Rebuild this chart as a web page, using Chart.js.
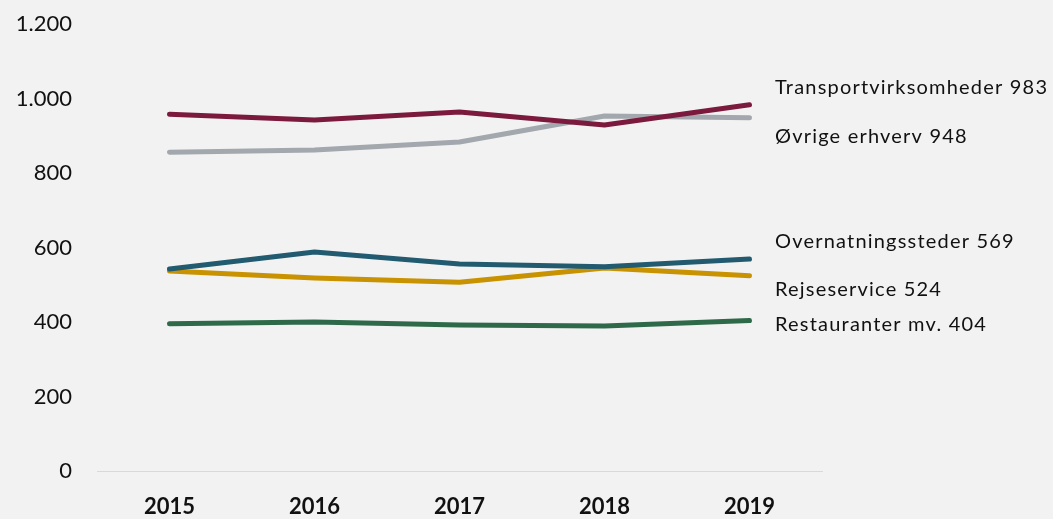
<!DOCTYPE html>
<html>
<head>
<meta charset="utf-8">
<script src="https://cdn.jsdelivr.net/npm/chart.js@4/dist/chart.umd.min.js"></script>
<style>
html,body{margin:0;padding:0;background:#f2f2f2;}
#wrap{width:1053px;height:519px;position:relative;}
</style>
</head>
<body>
<div id="wrap"><canvas id="c" width="1053" height="519"></canvas></div>
<script>
const years = ['2015','2016','2017','2018','2019'];
const transport = [958, 942, 964, 929, 983];
const ovrige = [856, 862, 883, 953, 948];
const overnatning = [542, 588, 556, 548, 569];
const rejseservice = [537, 518, 507, 545, 524];
const restauranter = [395, 400, 392, 389, 404];
const seriesNames = ['Transportvirksomheder', 'Øvrige erhverv', 'Overnatningssteder', 'Rejseservice', 'Restauranter mv.'];
const yTicks = [0, 200, 400, 600, 800, 1000, 1200];

const colors = ['#7b1a3c', '#a2a8ad', '#225a70', '#c89200', '#2e6a4a'];
const labelOffsets = [-17, 19, -18, 14, 4];
const fmt = v => v.toLocaleString('da-DK');

const endLabels = {
  id: 'endLabels',
  afterDatasetsDraw(chart) {
    const ctx = chart.ctx;
    const ys = chart.scales.y;
    ctx.save();
    ctx.font = '20px Lato';
    ctx.letterSpacing = '1.2px';
    ctx.fillStyle = '#111';
    ctx.textBaseline = 'middle';
    ctx.textAlign = 'left';
    chart.data.datasets.forEach((ds, i) => {
      const v = ds.data[ds.data.length - 1];
      const y = ys.getPixelForValue(v) + labelOffsets[i];
      ctx.fillText(ds.label + ' ' + fmt(v), 775, y);
    });
    ctx.restore();
  }
};

const dataSets = [transport, ovrige, overnatning, rejseservice, restauranter];
new Chart(document.getElementById('c'), {
  type: 'line',
  data: {
    labels: years,
    datasets: dataSets.map((d, i) => ({
      label: seriesNames[i],
      data: d,
      borderColor: colors[i],
      backgroundColor: colors[i],
      borderWidth: 5,
      pointRadius: 0,
      tension: 0,
      borderCapStyle: 'round',
      borderJoinStyle: 'round'
    }))
  },
  options: {
    responsive: false,
    animation: false,
    layout: { padding: { top: 24, right: 231, left: 0, bottom: 0 } },
    plugins: { legend: { display: false }, tooltip: { enabled: false } },
    scales: {
      x: {
        offset: true,
        grid: { display: false, drawTicks: false },
        border: { display: true, color: '#d9d9d9', width: 1 },
        ticks: { color: '#111', font: { family: 'Lato', size: 22, weight: 'bold' }, padding: 23 },
        afterFit(s) { s.height = 48; }
      },
      y: {
        min: 0, max: 1200,
        afterBuildTicks(s) { s.ticks = yTicks.map(v => ({ value: v })); },
        grid: { display: true, drawOnChartArea: false, drawTicks: true, tickLength: 25, tickColor: 'rgba(0,0,0,0)' },
        border: { display: false },
        ticks: { color: '#111', font: { family: 'Lato', size: 22 }, padding: 0, callback: v => fmt(v) },
        afterFit(s) { s.width = 97; }
      }
    }
  },
  plugins: [endLabels]
});
</script>
</body>
</html>
